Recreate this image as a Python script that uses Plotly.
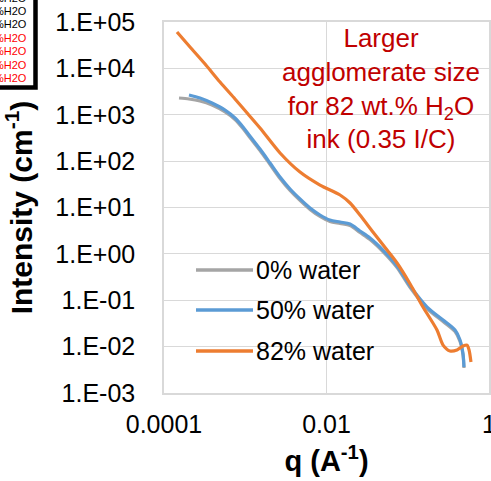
import plotly.graph_objects as go

# Scattering vector q (1/Angstrom) and intensity (1/cm) for each ink
series_names = ["0% water", "50% water", "82% water"]
series_colors = ["#A5A5A5", "#5B9BD5", "#ED7D31"]

q_0 = [1.53e-4, 2.03e-4, 2.77e-4, 3.90e-4, 5.64e-4, 7.48e-4, 9.38e-4, 1.14e-3,
       1.52e-3, 2.02e-3, 2.68e-3, 3.56e-3, 4.72e-3, 6.27e-3, 8.32e-3, 1.10e-2,
       1.47e-2, 1.95e-2, 2.58e-2, 3.43e-2, 4.95e-2, 7.38e-2, 0.107, 0.173,
       0.272, 0.382, 0.440, 0.479, 0.492]
i_0 = [2300, 2190, 1980, 1620, 1150, 791, 506, 323,
       169, 84.6, 42.2, 23.3, 14.2, 9.06, 6.40, 4.99,
       4.52, 4.09, 2.89, 2.04, 1.12, 0.508, 0.188, 0.0664,
       0.0348, 0.0212, 0.0129, 0.00659, 0.00346]

q_50 = [2.03e-4, 2.77e-4, 3.90e-4, 5.64e-4, 7.48e-4, 9.38e-4, 1.14e-3,
        1.52e-3, 2.02e-3, 2.68e-3, 3.56e-3, 4.72e-3, 6.27e-3, 8.32e-3, 1.10e-2,
        1.47e-2, 1.95e-2, 2.58e-2, 3.43e-2, 4.95e-2, 7.38e-2, 0.107, 0.173,
        0.272, 0.382, 0.440, 0.479, 0.492]
i_50 = [2670, 2300, 1790, 1260, 851, 545, 348,
        182, 91.2, 45.5, 25.1, 15.3, 9.75, 6.89, 5.37,
        4.86, 4.40, 3.11, 2.20, 1.21, 0.548, 0.203, 0.0714,
        0.0375, 0.0228, 0.0139, 0.00693, 0.00364]

q_82 = [1.445e-4, 2.09e-4, 3.20e-4, 4.89e-4, 7.48e-4, 1.08e-3, 1.52e-3,
        2.68e-3, 4.72e-3, 8.32e-3, 1.47e-2, 1.95e-2, 2.58e-2, 3.73e-2,
        5.56e-2, 7.38e-2, 0.107, 0.154, 0.229, 0.272, 0.331, 0.404, 0.479,
        0.536, 0.568, 0.600]
i_82 = [60800, 28900, 12400, 5080, 2190, 1040, 518,
        150, 58.2, 30.5, 18.6, 12.5, 6.89, 2.97,
        1.21, 0.635, 0.224, 0.0714, 0.0228, 0.0108, 0.00805, 0.00846, 0.0103,
        0.0108, 0.00846, 0.00466]

x_tick_vals = [1e-4, 1e-2, 1]
x_tick_text = ["0.0001", "0.01", "1"]
y_tick_vals = [1e-3, 1e-2, 1e-1, 1, 1e1, 1e2, 1e3, 1e4, 1e5]
y_tick_text = ["1.E-03", "1.E-02", "1.E-01", "1.E+00", "1.E+01",
               "1.E+02", "1.E+03", "1.E+04", "1.E+05"]

# Stacked "%H2O" labels of the neighbouring key, black then red
side_key_labels = ["%H2O"] * 7
side_key_colors = ["#000000"] * 3 + ["#FF0000"] * 4

FONT = "Liberation Sans, Arial, sans-serif"
W, H = 491, 481
ML, MR, MT, MB = 164, 2, 22, 88
PW, PH = W - ML - MR, H - MT - MB


def px_x(px):
    return (px - ML) / PW


def px_y(py):
    return (H - MB - py) / PH


fig = go.Figure()
for q, inten, name, color in zip([q_0, q_50, q_82], [i_0, i_50, i_82],
                                 series_names, series_colors):
    fig.add_trace(go.Scatter(
        x=q, y=inten, mode="lines", name=name, showlegend=False,
        line=dict(color=color, width=3.2, shape="spline", smoothing=0.8),
    ))

shapes = []
annotations = []

# In-plot key: long line samples followed by the series name
key_rows_y = [270, 310, 351]
for name, color, ry in zip(series_names, series_colors, key_rows_y):
    shapes.append(dict(type="line", xref="paper", yref="paper",
                       x0=px_x(196), x1=px_x(253), y0=px_y(ry), y1=px_y(ry),
                       line=dict(color=color, width=3.5)))
    annotations.append(dict(xref="paper", yref="paper", x=px_x(254), y=px_y(ry),
                            text=name, showarrow=False, xanchor="left",
                            yanchor="middle",
                            font=dict(family=FONT, size=25, color="#000000")))

# Red note about agglomerate size
annotations.append(dict(
    xref="paper", yref="paper", x=px_x(381), y=px_y(88),
    text="Larger<br>agglomerate size<br>for 82 wt.% H<sub>2</sub>O<br>ink (0.35 I/C)",
    showarrow=False, xanchor="center", yanchor="middle", align="center",
    font=dict(family=FONT, size=26, color="#C00000"),
))

# Framed box in the upper-left corner
shapes.append(dict(type="rect", xref="paper", yref="paper",
                   x0=px_x(-20), x1=px_x(35.5), y0=px_y(87.5), y1=px_y(-20),
                   fillcolor="#FFFFFF", line=dict(color="#000000", width=4.5),
                   layer="above"))
key_rows = [-2, 11, 24, 38, 51, 65, 78]
for label, color, ry in zip(side_key_labels, side_key_colors, key_rows):
    annotations.append(dict(xref="paper", yref="paper", x=px_x(29), y=px_y(ry),
                            text=label, showarrow=False, xanchor="right",
                            yanchor="middle",
                            font=dict(family=FONT, size=11, color=color)))

fig.update_layout(
    width=W, height=H, autosize=False, template="none",
    margin=dict(l=ML, r=MR, t=MT, b=MB, pad=0),
    paper_bgcolor="#FFFFFF", plot_bgcolor="#FFFFFF",
    font=dict(family=FONT, color="#000000"),
    shapes=shapes, annotations=annotations,
    xaxis=dict(
        type="log", range=[-4, 0], tickvals=x_tick_vals, ticktext=x_tick_text,
        ticks="", ticklabelstandoff=8, ticklabeloverflow="allow",
        tickfont=dict(size=25, color="#000000"),
        showgrid=True, gridcolor="#D9D9D9", gridwidth=1,
        showline=True, mirror=True, linecolor="#D9D9D9", linewidth=1.5,
        zeroline=False, automargin=False,
        title=dict(text="<b>q (A<sup>-1</sup>)</b>",
                   font=dict(size=29, color="#000000"), standoff=14),
    ),
    yaxis=dict(
        type="log", range=[-3, 5], tickvals=y_tick_vals, ticktext=y_tick_text,
        ticks="", ticklabelstandoff=22, ticklabeloverflow="allow",
        tickfont=dict(size=25, color="#000000"),
        showgrid=True, gridcolor="#D9D9D9", gridwidth=1,
        showline=True, mirror=True, linecolor="#D9D9D9", linewidth=1.5,
        zeroline=False, automargin=False,
        title=dict(text="<b>Intensity (cm<sup>-1</sup>)</b>",
                   font=dict(size=30, color="#000000"), standoff=14),
    ),
)

fig.write_html("out.html")
